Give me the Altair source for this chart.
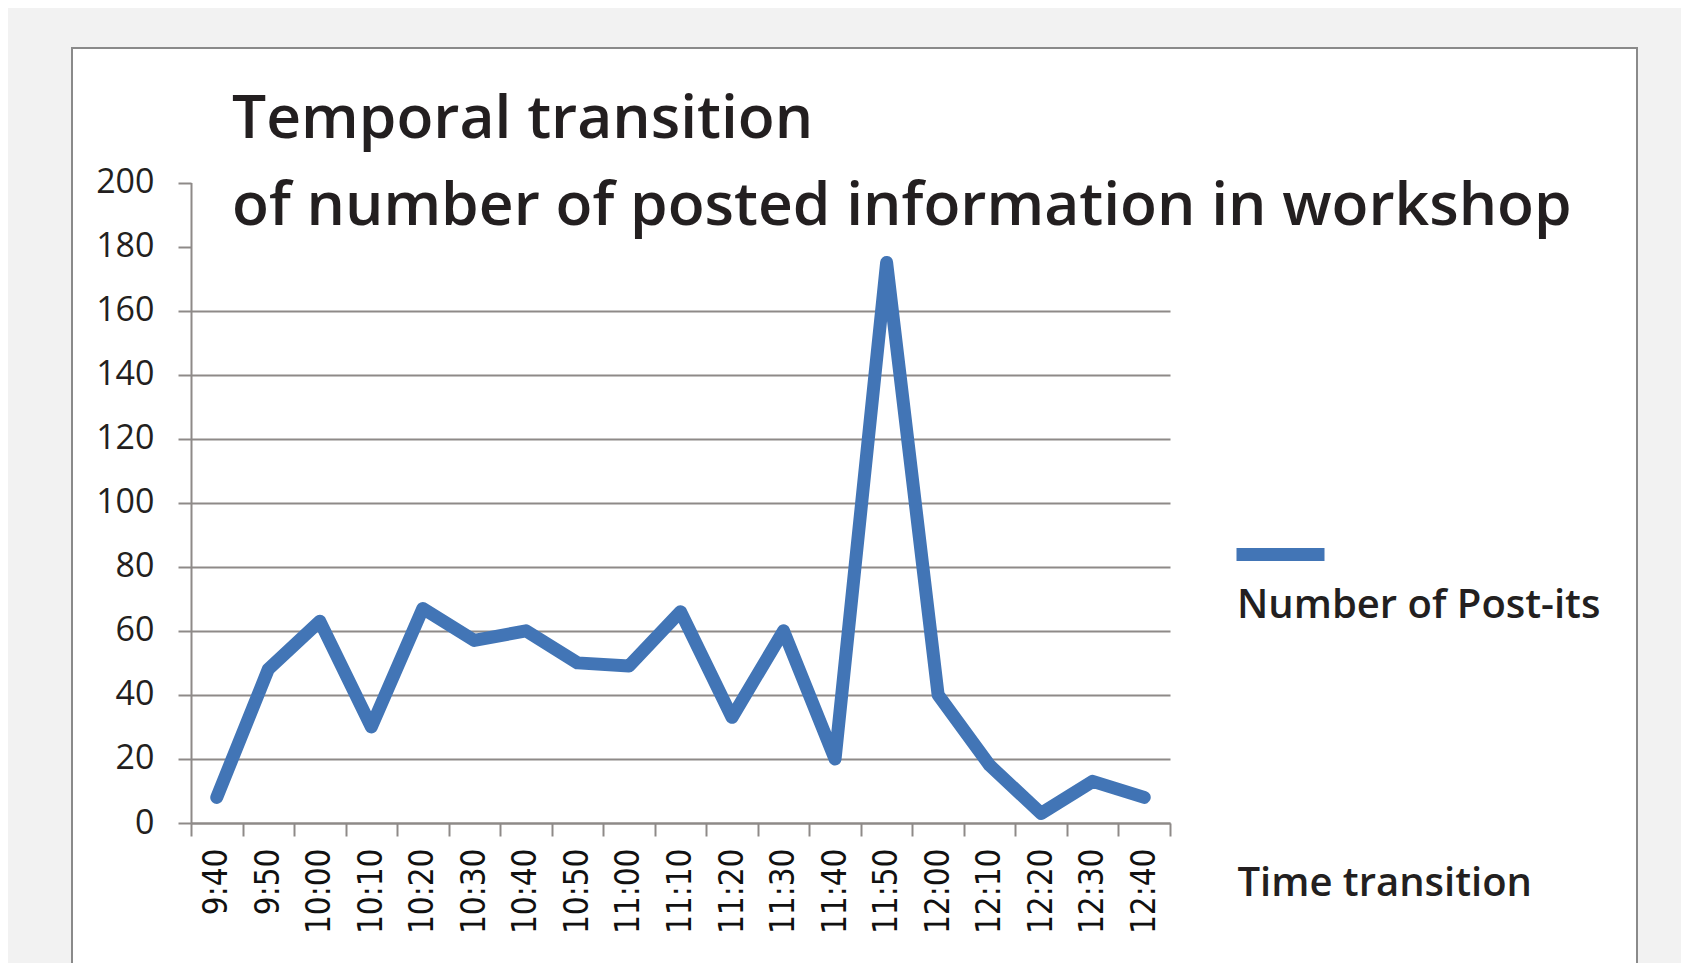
import altair as alt
import pandas as pd

# ---- data ----
times = ["9:40", "9:50", "10:00", "10:10", "10:20", "10:30", "10:40", "10:50",
         "11:00", "11:10", "11:20", "11:30", "11:40", "11:50", "12:00", "12:10",
         "12:20", "12:30", "12:40"]
counts = [8, 48, 63, 30, 67, 57, 60, 50, 49, 66, 33, 60, 20, 175, 40, 18, 3, 13, 8]
series_name = "Number of Post-its"
y_ticks = [0, 20, 40, 60, 80, 100, 120, 140, 160, 180, 200]
title_lines = ["Temporal transition", "of number of posted information in workshop"]
x_title = "Time transition"

df = pd.DataFrame({"time": times, "count": counts, "series": [series_name] * len(times)})

BLUE = "#4275b6"
GRID = "#8e8a88"
TEXT = "#231f20"
FONT = "Open Sans"
WEIGHT = 600

x = alt.X(
    "time:O", sort=times, bandPosition=0.5,
    scale=alt.Scale(type="band", range=[119, 1098], paddingInner=0, paddingOuter=0),
    axis=alt.Axis(
        title=x_title, titleX=1165, titleY=72, titleAlign="left", titleBaseline="alphabetic",
        titleFont=FONT, titleFontSize=40, titleFontWeight=WEIGHT, titleColor=TEXT, titleLimit=1000,
        labelAngle=270, labelFont="DejaVu Sans Condensed, DejaVu Sans", labelFontSize=33,
        labelColor="#111111", labelPadding=12, labelOverlap=False, labelBound=False,
        tickBand="extent", tickSize=13, tickColor=GRID, tickWidth=2,
        domainColor=GRID, domainWidth=2, offset=-185, grid=False,
    ),
)

y = alt.Y(
    "count:Q",
    scale=alt.Scale(domain=[0, 200], range=[775, 134.5], nice=False),
    axis=alt.Axis(
        values=y_ticks, title=None, offset=-119,
        labelFont=FONT, labelFontSize=34, labelColor=TEXT, labelPadding=24,
        tickSize=13, tickColor=GRID, tickWidth=2, domainColor=GRID, domainWidth=2,
        grid=True, gridColor=GRID, gridWidth=2,
        gridOpacity={"condition": {"test": "datum.value > 160", "value": 0}, "value": 1},
    ),
)

color = alt.Color(
    "series:N", scale=alt.Scale(range=[BLUE]),
    legend=alt.Legend(
        title=series_name, titleOrient="bottom", orient="none", legendX=1165, legendY=456,
        labelExpr="''", symbolType="stroke", symbolSize=7744, symbolStrokeWidth=13,
        symbolOffset=-7,
        titleFont=FONT, titleFontSize=40, titleFontWeight=WEIGHT, titleColor=TEXT,
        titleLimit=1000, titleAnchor="start", titleAlign="left", titlePadding=5, padding=0,
    ),
)

chart = (
    alt.Chart(df)
    .mark_line(strokeWidth=13, strokeCap="round", strokeJoin="round")
    .encode(x=x, y=y, color=color)
    .properties(
        width=1565, height=960,
        padding={"left": 64, "top": 40, "right": 44, "bottom": -45},
        autosize=alt.AutoSizeParams(type="none"),
        background="#f2f2f2",
        title=alt.TitleParams(
            text=title_lines, anchor="start", frame="group", dx=160, dy=189, offset=0,
            font=FONT, fontSize=60.5, fontWeight=WEIGHT, color=TEXT, lineHeight=87, limit=3000,
        ),
    )
    .configure_view(fill="white", stroke="#8a8a8a", strokeWidth=2)
)

chart.save("out.html", embed_options={"renderer": "svg", "actions": False})
